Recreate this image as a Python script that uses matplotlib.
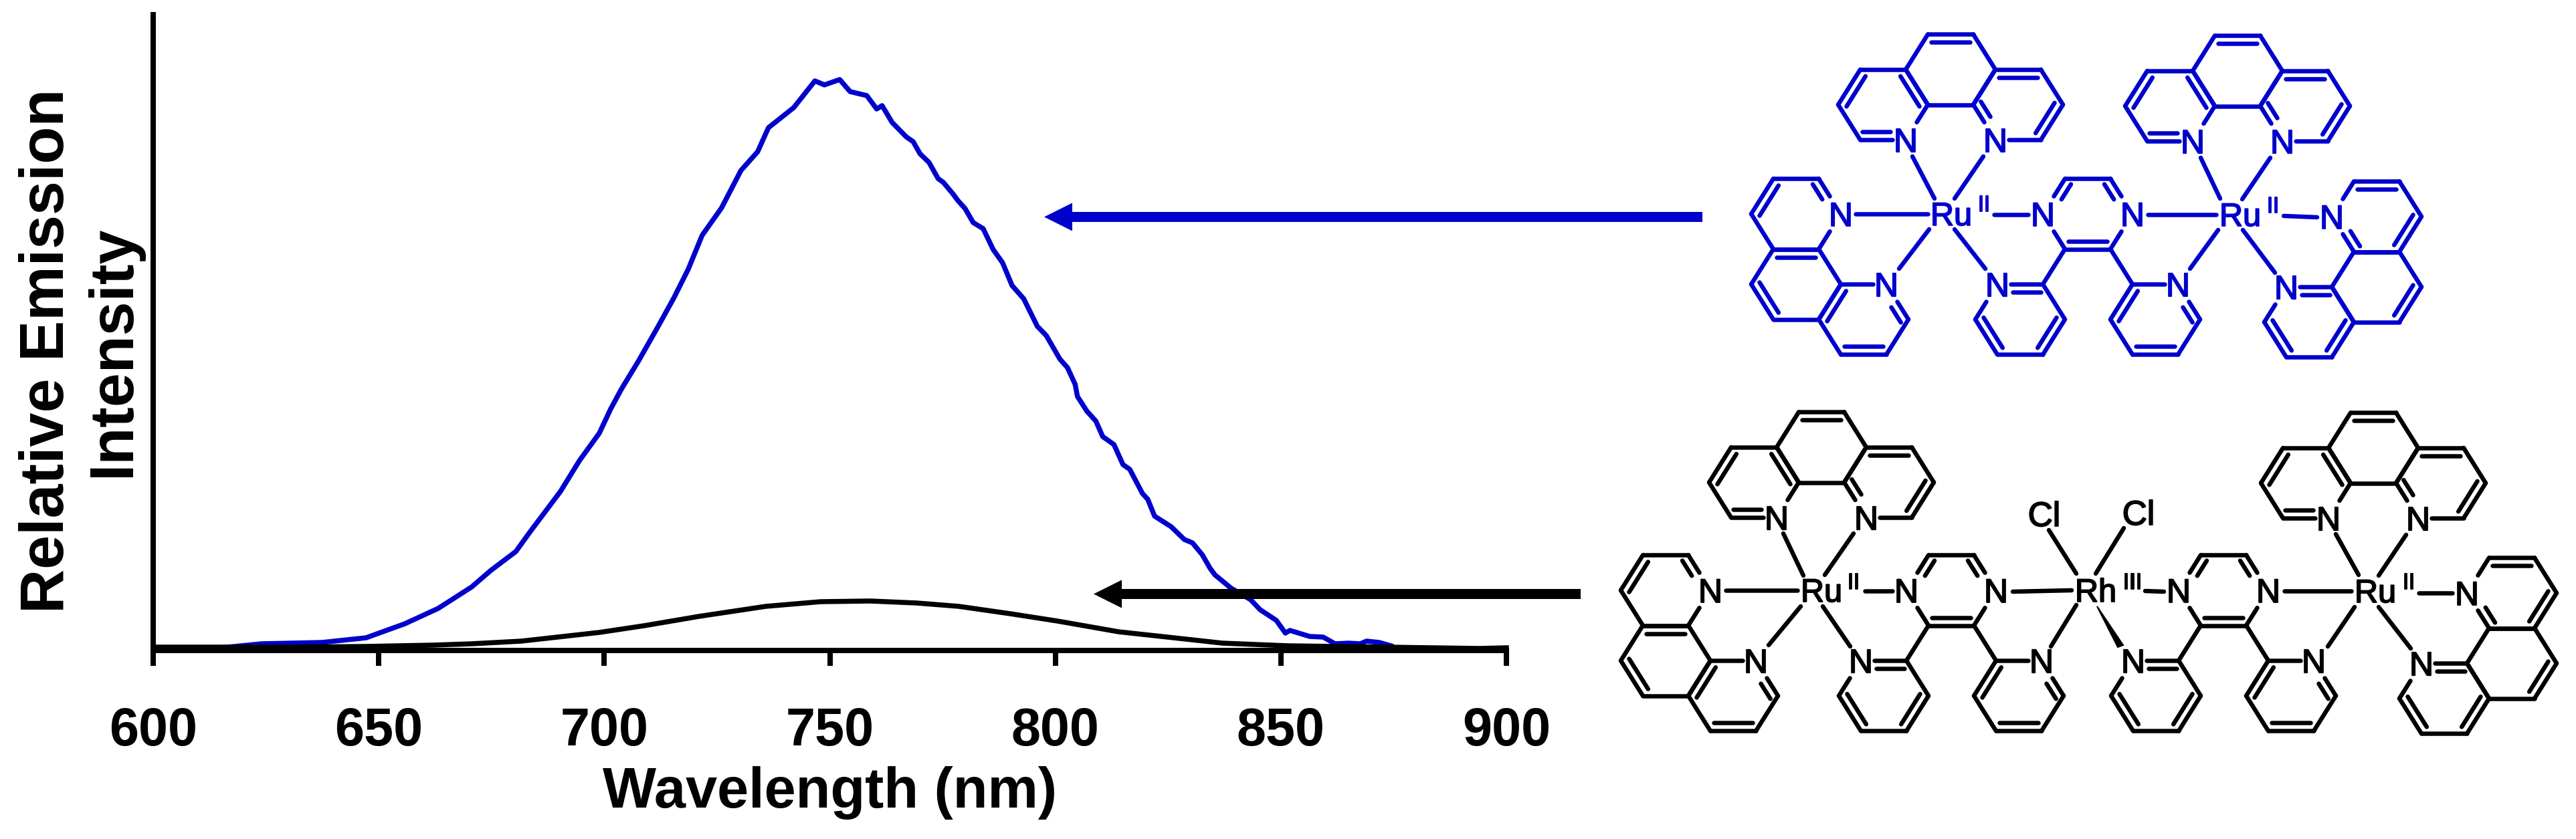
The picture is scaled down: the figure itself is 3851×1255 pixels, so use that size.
import matplotlib
matplotlib.use("Agg")
import matplotlib.pyplot as plt
from matplotlib.collections import LineCollection
from matplotlib.patches import FancyArrow, Polygon
import matplotlib.patheffects as pe
import numpy as np

# ---------- data (relative emission, arbitrary units) ----------
blue_nm = [600, 615, 624, 637.4, 647.2, 655.8, 663.2, 670.6, 674.9, 680.4, 683.5, 690.3, 694.5,
           698.9, 701.4, 703.8, 707.5, 711.8, 715.4, 718.6, 721.7, 726, 730.3, 734, 736.4, 742,
           746.7, 748.8, 752.2, 754.5, 758.2, 760.4, 761.6, 763.8, 767, 768.5, 770, 772, 774,
           775.2, 777.3, 778.4, 780, 781.8, 784, 786.2, 788.3, 790.4, 793, 796, 798, 801, 802.7,
           804.4, 804.9, 807, 809, 810.5, 813, 815, 816.5, 819.3, 820.5, 822, 825.7, 828.6,
           830.4, 832.6, 834.3, 835.4, 839, 843.3, 845.4, 849, 851, 852, 856.4, 859.4, 862,
           865, 867.6, 869, 871.8, 874.4]
blue_int = [4, 4, 10, 12, 19, 40, 63, 95, 120, 148, 177, 238, 284,
            325, 361, 391, 432, 483, 527, 570, 621, 662, 718, 746, 782, 812,
            852, 846, 854, 836, 830, 810, 815, 790, 768, 761, 743, 730, 706,
            700, 683, 673, 661, 640, 631, 600, 580, 546, 526, 485, 471, 436, 423,
            398, 380, 358, 343, 320, 308, 278, 271, 235, 226, 201, 185, 166,
            161, 143, 123, 113, 93, 76, 61, 45, 26, 30, 21, 20, 10,
            11, 10, 14, 12, 7]
black_nm = [600, 630, 647, 662, 670.6, 681.6, 698.9, 708.8, 721, 735.8, 748, 759, 769.3, 778.6,
            790, 800.5, 814, 827.6, 837, 851.5, 873.5, 894, 900]
black_int = [5, 5, 6, 8, 10, 14, 27, 37, 51, 66, 73, 74, 71, 66,
             55, 44, 28, 18, 11, 7, 5, 3, 4]
x_ticks = [600, 650, 700, 750, 800, 850, 900]
x_label = "Wavelength (nm)"
y_label = "Relative Emission\nIntensity"

BLUE = "#0000CC"
W, H = 3851, 1255
px = 0.72  # points per output pixel at dpi 100
plt.rcParams["font.family"] = ["Liberation Sans", "DejaVu Sans"]

fig = plt.figure(figsize=(W / 100, H / 100), dpi=100, facecolor="white")

# ---------- chart ----------
ax = fig.add_axes([229 / W, (H - 973) / H, 2023 / W, 951 / H])
ax.set_xlim(600, 900)
ax.set_ylim(0, 951)
ax.plot(blue_nm, blue_int, color=BLUE, lw=7.5 * px, clip_on=False, zorder=1.5)
ax.plot(black_nm, black_int, color="black", lw=7.5 * px, clip_on=False, zorder=1.6)
for s in ("top", "right"):
    ax.spines[s].set_visible(False)
for s in ("left", "bottom"):
    ax.spines[s].set_linewidth(8 * px)
    ax.spines[s].set_zorder(2)
ax.set_yticks([])
ax.set_xticks(x_ticks)
ax.tick_params(axis="x", length=23 * px, width=8 * px, pad=44,
               labelsize=57)
for t in ax.get_xticklabels():
    t.set_fontweight("bold")
ax.set_xlabel(x_label, fontsize=61, fontweight="bold", va="baseline")
ax.xaxis.set_label_coords(0.5, -(1208 - 973) / 951)
ax.set_ylabel(y_label, fontsize=66, fontweight="bold", va="bottom", linespacing=1.2)
ax.yaxis.set_label_coords((213 - 229) / 2023, 0.471)

# ---------- overlay in picture pixels: arrows and structural formulas ----------
ov = fig.add_axes([0, 0, 1, 1], zorder=5)
ov.set_xlim(0, W)
ov.set_ylim(H, 0)
ov.axis("off")
ov.patch.set_alpha(0)

ov.add_patch(FancyArrow(2545, 324.5, 1561 - 2545, 0, width=15, head_width=42,
                        head_length=42, length_includes_head=True, color=BLUE, lw=0))
ov.add_patch(FancyArrow(2363, 888.5, 1635 - 2363, 0, width=15, head_width=42,
                        head_length=42, length_includes_head=True, color="black", lw=0))

HW, HT, HH = 67.0, 34.0, 52.6  # hexagon half-width, half-top, half-height
STEP = 101.0
LABEL_FONT = ["Liberation Sans", "DejaVu Sans"]


def verts(c):
    cx, cy = c
    return [np.array(p, float) for p in ((cx - HT, cy - HH), (cx + HT, cy - HH), (cx + HW, cy),
                                         (cx + HT, cy + HH), (cx - HT, cy + HH), (cx - HW, cy))]


class Mol:
    def __init__(self, color):
        self.color = color
        self.segs = []

    def line(self, a, b):
        self.segs.append((tuple(a), tuple(b)))

    def text(self, x, y, s, size):
        ov.text(x, y, s, color=self.color, fontsize=size, ha="center", va="baseline", family=LABEL_FONT,
                path_effects=[pe.withStroke(linewidth=1.3, foreground=self.color)])

    def label(self, x, y, s, size=36, cap=36):
        self.text(x, y + cap / 2, s, size)

    def ring(self, c, doubles=(), nitro=()):
        v = verts(c)
        centre = np.array(c, float)
        for i in range(6):
            a, b = v[i].copy(), v[(i + 1) % 6].copy()
            u = (b - a) / np.linalg.norm(b - a)
            cut = 20 if abs(u[1]) < 0.1 else 31
            if i in nitro:
                a = a + u * cut
            if (i + 1) % 6 in nitro:
                b = b - u * cut
            self.line(a, b)
            if i in doubles:
                m = (a + b) / 2
                n = centre - m
                # normal of the bond that points into the ring
                nrm = np.array([-u[1], u[0]])
                if nrm @ n < 0:
                    nrm = -nrm
                self.line(a + (m - a) * 0.14 + nrm * 12, b + (m - b) * 0.14 + nrm * 12)
        for i in nitro:
            self.label(*v[i], "N")
        return v

    def top_phen(self, cx, cy):
        self.ring((cx, cy), doubles=(0,))
        self.ring((cx - STEP, cy + HH), doubles=(1, 3, 5), nitro=(3,))
        self.ring((cx + STEP, cy + HH), doubles=(0, 2, 4), nitro=(4,))

    def left_phen(self, cx, cy):
        self.ring((cx, cy), doubles=(1, 5), nitro=(2,))
        self.ring((cx, cy + 2 * HH), doubles=(0, 4))
        self.ring((cx + STEP, cy + 3 * HH), doubles=(1, 3, 5), nitro=(1,))

    def right_phen(self, cx, cy):
        self.ring((cx, cy), doubles=(0, 2, 4), nitro=(5,))
        self.ring((cx, cy + 2 * HH), doubles=(2,))
        self.ring((cx - STEP, cy + 3 * HH), doubles=(0, 2, 4), nitro=(0,))

    def bridge(self, cx, cy):
        p = self.ring((cx, cy), doubles=(1, 3, 5), nitro=(2, 5))
        l = self.ring((cx - STEP, cy + 3 * HH), doubles=(0, 2, 4), nitro=(0,))
        r = self.ring((cx + STEP, cy + 3 * HH), doubles=(1, 3, 5), nitro=(1,))
        self.line(p[4], l[1])
        self.line(p[3], r[0])

    def metal(self, x, name, ox, ox_x, ox_base, base):
        self.text(x, base, name, 35)
        self.text(ox_x, ox_base, ox, 24)

    def flush(self):
        ov.add_collection(LineCollection(self.segs, colors=self.color, linewidths=6.5 * px,
                                         capstyle="round", joinstyle="round"))


# blue binuclear complex
b = Mol(BLUE)
b.top_phen(2916, 104)
b.top_phen(3345, 106)
b.left_phen(2685, 320)
b.right_phen(3553, 324)
b.bridge(3121, 320)
b.metal(2917, "Ru", "II", 2966, 316, 337)
b.metal(3349, "Ru", "II", 3398, 318, 338)
for seg in [((2892, 297), (2859, 234)), ((2922, 297), (2965, 234)), ((2774, 320), (2882, 320)),
            ((2884, 343), (2839, 402)), ((2922, 343), (2968, 402)), ((2981, 321), (3032, 321)),
            ((3211, 321), (3313, 321)), ((3319, 297), (3290, 236)), ((3352, 298), (3394, 236)),
            ((3316, 344), (3274, 402)), ((3353, 344), (3401, 408)), ((3414, 323), (3464, 325))]:
    b.line(*seg)
b.flush()

# black trinuclear complex
k = Mol("black")
k.top_phen(2723, 669)
k.top_phen(3548, 670)
k.left_phen(2490, 883)
k.right_phen(3755, 887)
k.bridge(2917, 883)
k.bridge(3324, 883)
k.metal(2723, "Ru", "II", 2771, 881, 900)
k.metal(3133, "Rh", "III", 3188, 881, 900)
k.metal(3551, "Ru", "II", 3601, 881, 901)
k.label(3056, 769, "Cl", size=37)
k.label(3197, 767, "Cl", size=37)
for seg in [((2696, 861), (2666, 798)), ((2728, 860), (2771, 798)), ((2580, 883), (2687, 883)),
            ((2692, 907), (2644, 965)), ((2725, 907), (2766, 967)), ((2788, 884), (2829, 884)),
            ((3009, 885), (3097, 883)), ((3063, 793), (3104, 858)), ((3175, 790), (3133, 858)),
            ((3104, 905), (3066, 967)), ((3207, 884), (3235, 885)), ((3415, 884), (3515, 884)),
            ((3526, 860), (3492, 799)), ((3556, 861), (3597, 800)), ((3520, 908), (3480, 967)),
            ((3556, 908), (3604, 970)), ((3616, 887), (3666, 887))]:
    k.line(*seg)
k.flush()
ov.add_patch(Polygon([(3135, 907), (3166, 968), (3174, 965)], closed=True, color="black", lw=1.5))

fig.savefig("out.png", dpi=100, facecolor="white")
